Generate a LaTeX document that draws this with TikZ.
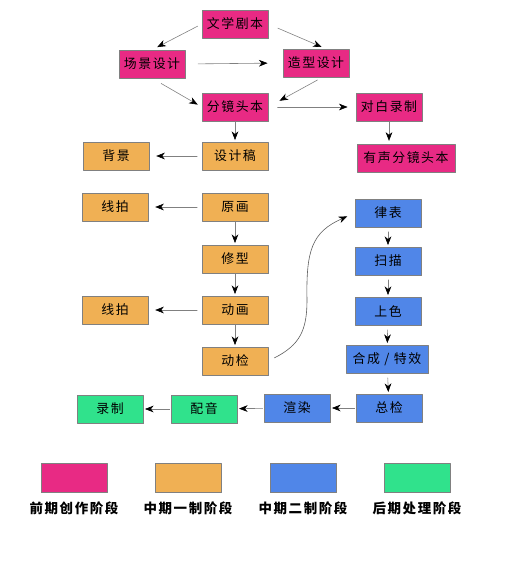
\documentclass[tikz,border=0pt]{standalone}
\usepackage{fontspec}
\setmainfont{Noto Sans CJK SC}
\newfontfamily\boxfont{Noto Sans CJK SC}[LetterSpace=12]
\usetikzlibrary{arrows.meta, shadows}

\definecolor{preclr}{RGB}{232,42,132}
\definecolor{midaclr}{RGB}{240,176,84}
\definecolor{midbclr}{RGB}{80,134,232}
\definecolor{postclr}{RGB}{48,226,140}

\begin{document}
\begin{tikzpicture}[x=0.03cm, y=-0.03cm, line cap=round, line join=round,
    box/.style={draw=black!50, line width=0.3pt, minimum width=1.98cm,
      minimum height=0.84cm, inner sep=0pt, font=\boxfont\fontsize{11}{13}\selectfont,
      drop shadow={shadow xshift=0.5pt, shadow yshift=-0.8pt, fill=black!70}},
    pre/.style={box, fill=preclr},
    mida/.style={box, fill=midaclr},
    midb/.style={box, fill=midbclr},
    post/.style={box, fill=postclr},
    flow/.style={draw=black!50, line width=0.5pt,
      -{Stealth[length=2.6mm, width=2mm, inset=0.8mm, color=black]},
      shorten <=1pt, shorten >=1.5pt},
    side/.style={flow, shorten <=4pt, shorten >=6pt},
    key/.style={font=\boxfont\fontsize{11.5}{13}\selectfont\bfseries}]
  \useasboundingbox (0,0) rectangle (517,565);
  % ================= pre-production =================
  \node[pre] (wxjb) at (235,24) {文学剧本};
  \node[pre] (cjsj) at (152,64) {场景设计};
  \node[pre] (zxsj) at (316,63) {造型设计};
  \node[pre] (fjtb) at (235,107) {分镜头本};
  \node[pre] (dbl) at (389,107) {对白录制};
  \node[pre, minimum width=2.94cm] (ysfj) at (406,158) {有声分镜头本};
  \draw[flow, shorten <=4pt, shorten >=5pt] (wxjb.west) -- (cjsj.north);
  \draw[flow, shorten <=9pt, shorten >=4pt] (wxjb.east) -- ([xshift=0.3cm]zxsj.north);
  \draw[flow, shorten <=11pt, shorten >=13pt] (cjsj.east) -- (zxsj.west);
  \draw[flow, shorten <=9pt, shorten >=4pt] (cjsj.south) -- (fjtb.west);
  \draw[flow, shorten <=5pt, shorten >=11pt] ([xshift=0.2cm]zxsj.south) -- (fjtb.east);
  \draw[flow, shorten <=8pt, shorten >=7pt] (fjtb.east) -- (dbl.west);
  \draw[flow, shorten >=2.5pt] (dbl.south) -- (dbl.south |- ysfj.north);
  % ================= middle, part one =================
  \node[mida] (sjg) at (235,156) {设计稿};
  \node[mida] (bj) at (116,156) {背景};
  \node[mida] (xp1) at (115,207) {线拍};
  \node[mida] (yh) at (235,207) {原画};
  \node[mida] (xx) at (235,259) {修型};
  \node[mida] (xp2) at (115,310) {线拍};
  \node[mida] (dh) at (235,310) {动画};
  \node[mida] (dj) at (235,361) {动检};
  \draw[flow] (fjtb) -- (sjg);
  \draw[side] (sjg) -- (bj);
  \draw[side] (yh) -- (xp1);
  \draw[flow] (yh) -- (xx);
  \draw[flow] (xx) -- (dh);
  \draw[side] (dh) -- (xp2);
  \draw[flow] (dh) -- (dj);
  % ================= middle, part two =================
  \node[midb] (lb) at (388,213) {律表};
  \node[midb] (sm) at (388,261) {扫描};
  \node[midb] (ss) at (388,311) {上色};
  \node[midb, minimum width=2.46cm] (hc) at (387,359) {合成 / 特效};
  \node[midb] (zj) at (389,408) {总检};
  \node[midb] (xr) at (297,408) {渲染};
  \draw[flow, shorten <=4pt] (lb) -- (sm);
  \draw[flow, shorten <=4pt] (sm) -- (ss);
  \draw[flow, shorten <=4pt] (ss) -- (hc);
  \draw[flow, shorten <=4pt] (hc) -- (zj);
  \draw[flow] (zj) -- (xr);
  % curved hand-over from part one
  \draw[flow, draw=black!65, shorten <=6pt, shorten >=7pt] (dj.east)
      .. controls (300,345) and (307,330) .. (307,300)
      .. controls (306,250) and (312,232) .. (lb.west);
  % ================= post-production =================
  \node[post] (py) at (204,409) {配音};
  \node[post] (lz) at (110,409) {录制};
  \draw[flow] (xr) -- (py);
  \draw[flow] (py) -- (lz);
  % ================= legend =================
  \node[pre, minimum height=0.87cm] (kpre) at (74,478) {};
  \node[mida, minimum height=0.87cm] (kmida) at (188,478) {};
  \node[midb, minimum height=0.87cm] (kmidb) at (303,478) {};
  \node[post, minimum height=0.87cm] (kpost) at (417,478) {};
  \node[key] (tpre) at (74,508) {前期创作阶段};
  \node[key] (tmida) at (188,508) {中期一制阶段};
  \node[key] (tmidb) at (303,508) {中期二制阶段};
  \node[key] (tpost) at (417,508) {后期处理阶段};
\end{tikzpicture}
\end{document}
